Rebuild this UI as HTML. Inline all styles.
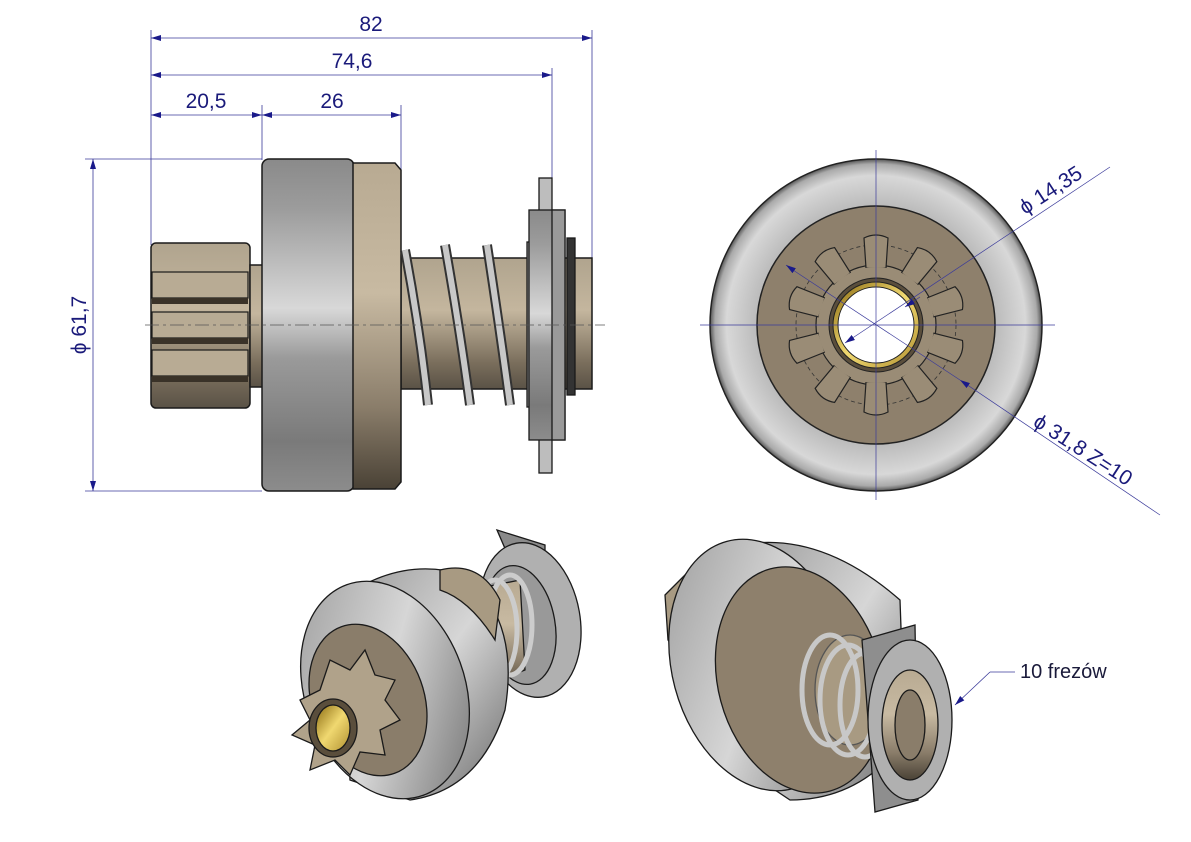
<!DOCTYPE html>
<html><head><meta charset="utf-8"><style>
html,body{margin:0;padding:0;background:#fff;}
svg{display:block;font-family:"Liberation Sans",sans-serif;}
</style></head><body>
<svg width="1191" height="842" viewBox="0 0 1191 842" xmlns="http://www.w3.org/2000/svg">
<defs>
<linearGradient id="gv" x1="0" y1="0" x2="0" y2="1">
<stop offset="0" stop-color="#8a8a8a"/><stop offset="0.15" stop-color="#9c9c9c"/><stop offset="0.45" stop-color="#d8d8d8"/><stop offset="0.6" stop-color="#9a9a9a"/><stop offset="0.85" stop-color="#7a7a7a"/><stop offset="1" stop-color="#8c8c8c"/></linearGradient>
<linearGradient id="gt" x1="0" y1="0" x2="0" y2="1">
<stop offset="0" stop-color="#b8aa92"/><stop offset="0.4" stop-color="#c8baa2"/><stop offset="0.75" stop-color="#8a7d6a"/><stop offset="1" stop-color="#4a4236"/></linearGradient>
<linearGradient id="gs" x1="0" y1="0" x2="0" y2="1">
<stop offset="0" stop-color="#b0a48e"/><stop offset="0.4" stop-color="#c4b69e"/><stop offset="0.8" stop-color="#7a6e5c"/><stop offset="1" stop-color="#5a5246"/></linearGradient>
<radialGradient id="gr" cx="0.5" cy="0.5" r="0.5">
<stop offset="0.7" stop-color="#b8b8b8"/><stop offset="0.9" stop-color="#d8d8d8"/><stop offset="0.97" stop-color="#aaa"/><stop offset="1" stop-color="#555"/></radialGradient>
<linearGradient id="g3" x1="0" y1="0" x2="1" y2="1">
<stop offset="0" stop-color="#9a9a9a"/><stop offset="0.5" stop-color="#d6d6d6"/><stop offset="1" stop-color="#6a6a6a"/></linearGradient>
<linearGradient id="gold" x1="0" y1="0" x2="1" y2="1">
<stop offset="0" stop-color="#8a6a10"/><stop offset="0.5" stop-color="#f0d870"/><stop offset="1" stop-color="#b09030"/></linearGradient>
<marker id="ar" viewBox="0 0 10 6" refX="10" refY="3" markerWidth="10" markerHeight="6" orient="auto-start-reverse" markerUnits="userSpaceOnUse"><path d="M0,0 L10,3 L0,6z" fill="#1a1a8a"/></marker>
</defs>

<!-- dimensions top -->
<g stroke="#3a3a9a" stroke-width="0.8" fill="none">
<line x1="151" y1="30" x2="151" y2="245"/>
<line x1="592" y1="30" x2="592" y2="260"/>
<line x1="552" y1="68" x2="552" y2="180"/>
<line x1="262" y1="105" x2="262" y2="160"/>
<line x1="401" y1="105" x2="401" y2="170"/>
<line x1="151" y1="38" x2="592" y2="38" marker-start="url(#ar)" marker-end="url(#ar)"/>
<line x1="151" y1="75" x2="552" y2="75" marker-start="url(#ar)" marker-end="url(#ar)"/>
<line x1="151" y1="115" x2="262" y2="115" marker-start="url(#ar)" marker-end="url(#ar)"/>
<line x1="262" y1="115" x2="401" y2="115" marker-start="url(#ar)" marker-end="url(#ar)"/>
<line x1="85" y1="159" x2="262" y2="159"/>
<line x1="85" y1="491" x2="262" y2="491"/>
<line x1="93" y1="159" x2="93" y2="491" marker-start="url(#ar)" marker-end="url(#ar)"/>
</g>
<g fill="#1a1a7a" font-size="21">
<text x="371" y="31" text-anchor="middle">82</text>
<text x="352" y="68" text-anchor="middle">74,6</text>
<text x="206" y="108" text-anchor="middle">20,5</text>
<text x="332" y="108" text-anchor="middle">26</text>
<text transform="translate(86,325) rotate(-90)" text-anchor="middle">ϕ 61,7</text>
</g>

<!-- side view -->
<g stroke="#1a1a1a" stroke-width="1.5">
<rect x="151" y="243" width="99" height="165" rx="5" fill="url(#gs)"/>
<g fill="#b8ab94" stroke-width="1.2">
<rect x="152" y="272" width="96" height="26"/>
<rect x="152" y="312" width="96" height="26"/>
<rect x="152" y="350" width="96" height="26"/>
</g>
<g fill="#3a3228" stroke="none"><rect x="152" y="298" width="96" height="6"/><rect x="152" y="338" width="96" height="6"/><rect x="152" y="376" width="96" height="6"/></g>
<rect x="250" y="265" width="13" height="122" fill="url(#gs)"/>
<rect x="401" y="258" width="191" height="131" fill="url(#gs)"/>
<rect x="262" y="159" width="92" height="332" rx="7" fill="url(#gv)"/>
<path d="M353 163 L395 163 L401 170 L401 482 L395 489 L353 489z" fill="url(#gt)"/>
</g>
<g fill="none" stroke="#333" stroke-width="10">
<path d="M405 250 Q420 330 428 405"/><path d="M445 245 Q460 330 470 405"/><path d="M487 245 Q500 330 510 405"/>
</g>
<g fill="none" stroke="#c8c8c8" stroke-width="6">
<path d="M405 250 Q420 330 428 405"/><path d="M445 245 Q460 330 470 405"/><path d="M487 245 Q500 330 510 405"/>
</g>
<g stroke="#1a1a1a" stroke-width="1.3">
<rect x="527" y="242" width="12" height="165" fill="#999"/>
<rect x="539" y="178" width="13" height="295" fill="#bdbdbd"/>
<rect x="529" y="210" width="36" height="230" fill="url(#gv)"/>
<rect x="552" y="210" width="13" height="230" fill="#9a9a9a"/>
<rect x="567" y="238" width="8" height="157" fill="#333"/>
</g>
<line x1="145" y1="325" x2="605" y2="325" stroke="#555" stroke-width="0.7" stroke-dasharray="14,4,3,4"/>

<!-- front view -->
<circle cx="876" cy="325" r="166" fill="url(#gr)" stroke="#222" stroke-width="1.5"/>
<circle cx="876" cy="325" r="119" fill="#8e806c" stroke="#222" stroke-width="1.5"/>
<circle cx="876" cy="325" r="80" fill="none" stroke="#333" stroke-width="0.8" stroke-dasharray="4,3"/>
<g fill="#9a8c76" stroke="#222" stroke-width="1.2">
<circle cx="876" cy="325" r="60"/>
<g id="teeth">
<path d="M866 268 L864 238 Q876 232 888 238 L886 268z"/>
</g>
<use href="#teeth" transform="rotate(36 876 325)"/>
<use href="#teeth" transform="rotate(72 876 325)"/>
<use href="#teeth" transform="rotate(108 876 325)"/>
<use href="#teeth" transform="rotate(144 876 325)"/>
<use href="#teeth" transform="rotate(180 876 325)"/>
<use href="#teeth" transform="rotate(216 876 325)"/>
<use href="#teeth" transform="rotate(252 876 325)"/>
<use href="#teeth" transform="rotate(288 876 325)"/>
<use href="#teeth" transform="rotate(324 876 325)"/>
<circle cx="876" cy="325" r="58" stroke="none"/>
</g>
<circle cx="876" cy="325" r="47" fill="#5a4e3c" stroke="#222"/>
<circle cx="876" cy="325" r="43" fill="url(#gold)" stroke="#222"/>
<circle cx="876" cy="325" r="38" fill="#fff" stroke="#222"/>
<g stroke="#3a3a9a" stroke-width="0.7" fill="none">
<line x1="876" y1="150" x2="876" y2="500"/>
<line x1="700" y1="325" x2="1055" y2="325"/>
<line x1="845" y1="343" x2="1110" y2="167" marker-start="url(#ar)"/>
<line x1="905" y1="307" x2="920" y2="297" marker-start="url(#ar)"/>
<line x1="786" y1="265" x2="796" y2="272" marker-start="url(#ar)"/>
<line x1="960" y1="380" x2="1160" y2="515" marker-start="url(#ar)"/>
<line x1="796" y1="272" x2="960" y2="380"/>
</g>
<g fill="#1a1a7a" font-size="21">
<text transform="translate(1025,215) rotate(-33)">ϕ 14,35</text>
<text transform="translate(1032,425) rotate(33)">ϕ 31,8  Z=10</text>
</g>

<!-- 3D left -->
<g stroke="#1a1a1a" stroke-width="1.3">
<path d="M497 530 L545 545 L545 560 L510 560z" fill="#8a8a8a"/>
<ellipse cx="530" cy="620" rx="50" ry="78" fill="#b0b0b0" transform="rotate(-10 530 620)"/>
<ellipse cx="520" cy="625" rx="35" ry="60" fill="#999" transform="rotate(-10 520 625)"/>
<path d="M470 590 L520 580 L525 670 L475 690z" fill="url(#gt)"/>
<g fill="none" stroke="#ccc" stroke-width="5"><ellipse cx="495" cy="630" rx="22" ry="50"/><ellipse cx="510" cy="625" rx="22" ry="50"/></g>
<path d="M340 600 Q400 555 465 575 Q520 620 505 710 Q480 790 410 800 L350 780z" fill="url(#g3)"/>
<path d="M440 570 Q480 560 500 600 L495 640 Q470 600 440 590z" fill="#a89a82"/>
<ellipse cx="385" cy="690" rx="80" ry="112" fill="url(#g3)" transform="rotate(-20 385 690)"/>
<ellipse cx="368" cy="700" rx="56" ry="78" fill="#8a7d6a" transform="rotate(-20 368 700)"/>
<g fill="#b0a28a">
<path d="M300 700 L320 690 L330 660 L350 670 L365 650 L375 675 L395 680 L385 700 L400 720 L380 730 L385 755 L360 752 L350 775 L335 760 L310 770 L315 745 L292 735 L310 720z"/>
</g>
<ellipse cx="333" cy="728" rx="24" ry="29" fill="#5a4e3c"/>
<ellipse cx="333" cy="728" rx="17" ry="23" fill="url(#gold)"/>
</g>

<!-- 3D right -->
<g stroke="#1a1a1a" stroke-width="1.3">
<path d="M665 595 L690 570 L720 560 L730 680 L700 680 L668 640z" fill="#a89a82"/>
<path d="M740 545 Q820 530 900 600 L905 740 Q860 800 790 800 L760 780z" fill="url(#g3)"/>
<ellipse cx="760" cy="665" rx="88" ry="128" fill="url(#g3)" transform="rotate(-15 760 665)"/>
<ellipse cx="800" cy="680" rx="82" ry="115" fill="#8e806c" transform="rotate(-15 800 680)"/>
<ellipse cx="850" cy="690" rx="35" ry="55" fill="#a89a82" stroke="#555"/>
<g fill="none" stroke="#c8c8c8" stroke-width="5"><ellipse cx="830" cy="690" rx="28" ry="55"/><ellipse cx="848" cy="700" rx="28" ry="55"/><ellipse cx="865" cy="705" rx="25" ry="52"/></g>
<path d="M862 640 L915 625 L918 800 L875 812 z" fill="#8e8e8e"/>
<ellipse cx="910" cy="720" rx="42" ry="80" fill="#b0b0b0"/>
<ellipse cx="910" cy="725" rx="28" ry="55" fill="url(#gt)"/>
<ellipse cx="910" cy="725" rx="15" ry="35" fill="#8a7d6a"/>
</g>
<line x1="955" y1="705" x2="990" y2="672" stroke="#3a3a9a" stroke-width="0.8" marker-start="url(#ar)"/>
<line x1="990" y1="672" x2="1015" y2="672" stroke="#3a3a9a" stroke-width="0.8"/>
<text x="1020" y="678" font-size="20" fill="#1a1a3a">10 frezów</text>
</svg>
</body></html>
